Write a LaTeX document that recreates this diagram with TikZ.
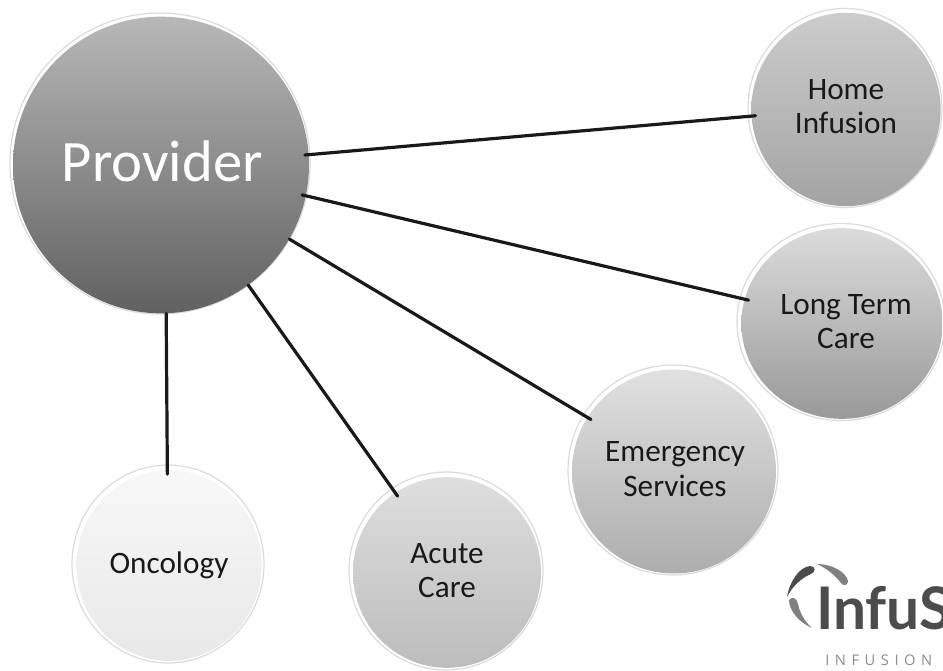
\documentclass[tikz,border=0pt]{standalone}
\usepackage{fontspec}
\usetikzlibrary{shapes.geometric}
\setmainfont{Carlito}
\newfontfamily\logofont{Lato}
\newfontfamily\tagfont[LetterSpace=38]{Open Sans}
\definecolor{rimg}{gray}{0.86}
\definecolor{gA}{gray}{0.72}\definecolor{gB}{gray}{0.38}
\definecolor{hA}{gray}{0.80}\definecolor{hB}{gray}{0.64}
\definecolor{lA}{gray}{0.86}\definecolor{lB}{gray}{0.60}
\definecolor{eA}{gray}{0.88}\definecolor{eB}{gray}{0.68}
\definecolor{aA}{gray}{0.87}\definecolor{aB}{gray}{0.74}
\definecolor{oA}{gray}{0.97}\definecolor{oB}{gray}{0.91}
\tikzset{
  px/.style={x=0.75pt,y=-0.75pt},
  bubble/.style={ellipse,inner sep=0pt},
  bubtext/.style={align=center,inner sep=0pt,text=black!90,font=\fontsize{23.4}{26}\selectfont},
  rim/.style={fill=white,draw=rimg,line width=0.9pt},
  link/.style={line width=2.4pt,draw=black!90,line cap=round,shorten >=-3.2pt},
  gapstart/.style={shorten <=-3pt},
}
% rim behind a bubble: centre x, centre y, x radius, y radius
\newcommand{\rimdisc}[4]{\path[rim] (#1,#2) ellipse[x radius=#3,y radius=#4];}
\begin{document}
\begin{tikzpicture}[px]
\useasboundingbox (0,0) rectangle (943,671);
\clip (0,0) rectangle (943,671);
\rimdisc{160}{163.5}{150}{150.5}
\rimdisc{845}{108}{97}{99.5}
\rimdisc{841}{322}{104}{98.5}
\rimdisc{673}{470}{105}{105}
\rimdisc{446}{571}{97}{99}
\rimdisc{168}{564}{96}{99}
\node[bubble,top color=gA,bottom color=gB,minimum width=222pt,minimum height=222.5pt,
  label={[bubtext,text=white,font=\fontsize{44}{50}\selectfont,xshift=1pt,yshift=3pt]center:Provider}] (prov) at (161,165) {};
\node[bubble,top color=hA,bottom color=hB,minimum width=142pt,minimum height=145pt,
  label={[bubtext,yshift=2.2pt]center:{Home\\Infusion}}] (home) at (846,109.5) {};
\node[bubble,top color=lA,bottom color=lB,minimum width=151pt,minimum height=143pt,
  label={[bubtext,xshift=3pt,yshift=1.5pt]center:{Long Term\\Care}}] (ltc) at (842,323.5) {};
\node[bubble,top color=eA,bottom color=eB,minimum width=153pt,minimum height=153pt,
  label={[bubtext,xshift=0.75pt,yshift=1.9pt]center:{Emergency\\Services}}] (emer) at (674,471.5) {};
\node[bubble,top color=aA,bottom color=aB,minimum width=141pt,minimum height=143pt,
  label={[bubtext,yshift=1.5pt]center:{Acute\\Care}}] (acute) at (447,572.5) {};
\node[bubble,top color=oA,bottom color=oB,minimum width=139pt,minimum height=143pt,
  label={[bubtext]center:Oncology}] (onc) at (169,565.5) {};
\draw[link,gapstart] (prov.4.7) -- (home.184);
\draw[link,gapstart] (prov.-12.6) -- (ltc.166);
\draw[link] (prov.-30.4) -- (emer.148);
\draw[link] (prov.-54.4) -- (acute.123.5);
\draw[link] (prov.-88.5) -- (onc.91);
% logo
\fill[black!70] (787,597) .. controls (790,580) and (800,567) .. (810,566) .. controls (816,566) and (816,572) .. (811,574) .. controls (801,578) and (792,587) .. (787,597) -- cycle;
\fill[black!50] (817,564) .. controls (832,564) and (846,572) .. (848,581) .. controls (848,586) and (843,586) .. (841,583) .. controls (835,575) and (826,568) .. (817,564) -- cycle;
\fill[black!50] (789,600) .. controls (792,596) and (797,598) .. (798,604) .. controls (800,614) and (806,623) .. (812,628) .. controls (800,623) and (789,611) .. (789,600) -- cycle;
\node[anchor=base west,inner sep=0pt,text=black!70,font=\logofont\bfseries\fontsize{44}{44}\selectfont] (logo) at (816,629) {InfuS};
\node[anchor=base west,inner sep=0pt,text=black!45,font=\tagfont\fontsize{11}{11}\selectfont] (logotag) at (825,665) {INFUSION};
\end{tikzpicture}
\end{document}
